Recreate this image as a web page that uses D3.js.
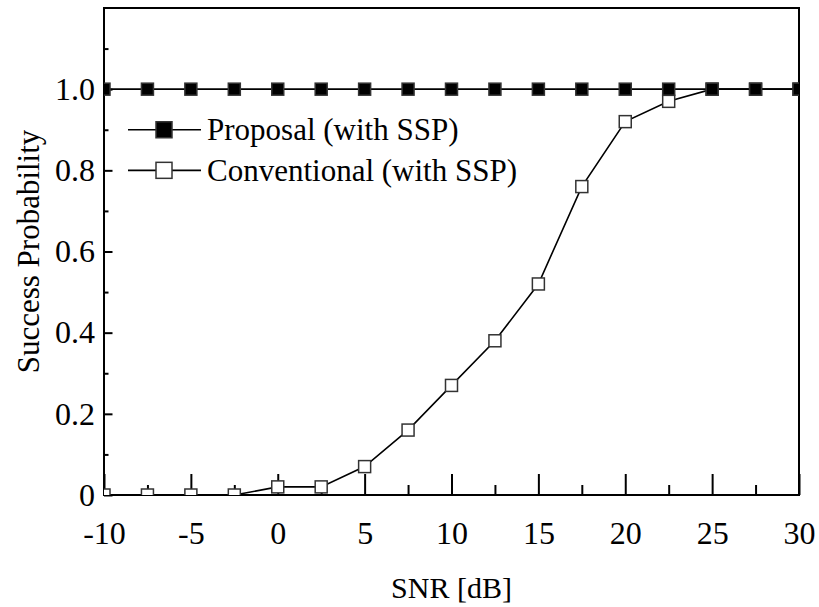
<!DOCTYPE html>
<html>
<head>
<meta charset="utf-8">
<script src="https://cdn.jsdelivr.net/npm/d3@7.9.0/dist/d3.min.js"></script>
<style>
  body { margin: 0; background: #fff; }
  svg { display: block; font-family: "Liberation Serif", "Times New Roman", serif; }
</style>
</head>
<body>
<div id="chart"></div>
<script>
// data
const snr = [-10, -7.5, -5, -2.5, 0, 2.5, 5, 7.5, 10, 12.5, 15, 17.5, 20, 22.5, 25, 27.5, 30];
const proposal = [1, 1, 1, 1, 1, 1, 1, 1, 1, 1, 1, 1, 1, 1, 1, 1, 1];
const conventional = [0, 0, 0, 0, 0.02, 0.02, 0.07, 0.16, 0.27, 0.38, 0.52, 0.76, 0.92, 0.97, 1, 1, 1];
const seriesNames = ['Proposal (with SSP)', 'Conventional (with SSP)'];
const xMajor = [-10, -5, 0, 5, 10, 15, 20, 25, 30];
const xMinor = [-7.5, -2.5, 2.5, 7.5, 12.5, 17.5, 22.5, 27.5];
const yMajor = [0, 0.2, 0.4, 0.6, 0.8, 1.0];
const yMinor = [0.1, 0.3, 0.5, 0.7, 0.9, 1.1];

const width = 819;
const height = 607;
const margin = {top: 8, right: 20, bottom: 112, left: 104};

const svg = d3.select('#chart')
    .append('svg')
    .attr('width', width)
    .attr('height', height);

const xScale = d3.scaleLinear().domain([-10, 30]).range([margin.left, width - margin.right]);
const yScale = d3.scaleLinear().domain([0, 1.2]).range([height - margin.bottom, margin.top]);
const bottom = height - margin.bottom;

svg.append('clipPath')
    .attr('id', 'plot-clip')
    .append('rect')
    .attr('x', margin.left)
    .attr('y', margin.top)
    .attr('width', width - margin.left - margin.right)
    .attr('height', bottom - margin.top);

// axes: ticks point inward
svg.append('g')
    .attr('transform', `translate(0, ${bottom})`)
    .call(d3.axisBottom(xScale).tickValues(xMajor).tickSize(-21).tickSizeOuter(0).tickPadding(26)
        .tickFormat((d) => String(d)));
svg.append('g')
    .attr('transform', `translate(0, ${bottom})`)
    .call(d3.axisBottom(xScale).tickValues(xMinor).tickSize(-10).tickSizeOuter(0).tickFormat(''));
svg.append('g')
    .attr('transform', `translate(${margin.left}, 0)`)
    .call(d3.axisLeft(yScale).tickValues(yMajor).tickSize(-8.5).tickSizeOuter(0).tickPadding(9)
        .tickFormat((d) => d === 0 ? '0' : d3.format('.1f')(d)));
svg.append('g')
    .attr('transform', `translate(${margin.left}, 0)`)
    .call(d3.axisLeft(yScale).tickValues(yMinor).tickSize(-4.5).tickSizeOuter(0).tickFormat(''));

svg.selectAll('.domain').remove();
svg.selectAll('.tick line').attr('stroke', '#000').attr('stroke-width', 2);
svg.selectAll('.tick text')
    .attr('fill', '#000')
    .attr('font-family', null)
    .style('font-size', '32px')
    .style('font-family', '"Liberation Serif", serif');
svg.selectAll('g').attr('font-family', null);

// frame
svg.append('rect')
    .attr('x', margin.left)
    .attr('y', margin.top)
    .attr('width', width - margin.left - margin.right)
    .attr('height', bottom - margin.top)
    .attr('fill', 'none')
    .attr('stroke', '#000')
    .attr('stroke-width', 2);

// series
const plot = svg.append('g').attr('clip-path', 'url(#plot-clip)');
const line = d3.line().x((d) => xScale(d[0])).y((d) => yScale(d[1]));
const markerSize = 12;

function drawSeries(values, fill) {
    const pts = d3.zip(snr, values);
    plot.append('path')
        .datum(pts)
        .attr('d', line)
        .attr('fill', 'none')
        .attr('stroke', '#000')
        .attr('stroke-width', 1.6);
    plot.append('g')
        .selectAll('rect')
        .data(pts)
        .join('rect')
        .attr('x', (d) => xScale(d[0]) - markerSize / 2)
        .attr('y', (d) => yScale(d[1]) - markerSize / 2)
        .attr('width', markerSize)
        .attr('height', markerSize)
        .attr('fill', fill)
        .attr('stroke', '#333')
        .attr('stroke-width', 1.5);
}

drawSeries(conventional, '#fff');
drawSeries(proposal, '#000');

// legend
const legendItems = [
    {name: seriesNames[0], fill: '#000', y: yScale(0.9)},
    {name: seriesNames[1], fill: '#fff', y: yScale(0.8)},
];
const legend = svg.append('g');
legendItems.forEach((item) => {
    const g = legend.append('g').attr('transform', `translate(0, ${item.y})`);
    g.append('line')
        .attr('x1', 128).attr('x2', 201)
        .attr('stroke', '#000').attr('stroke-width', 1.6);
    g.append('rect')
        .attr('x', 156).attr('y', -8)
        .attr('width', 16).attr('height', 16)
        .attr('fill', item.fill)
        .attr('stroke', '#333').attr('stroke-width', 1.5);
    g.append('text')
        .attr('x', 207)
        .attr('dy', '0.33em')
        .style('font-size', '31px')
        .text(item.name);
});

// axis titles
svg.append('text')
    .attr('x', xScale(10))
    .attr('y', 598)
    .attr('text-anchor', 'middle')
    .style('font-size', '30px')
    .text('SNR [dB]');

svg.append('text')
    .attr('transform', `translate(39, ${(margin.top + bottom) / 2}) rotate(-90)`)
    .attr('text-anchor', 'middle')
    .style('font-size', '31px')
    .text('Success Probability');
</script>
</body>
</html>
